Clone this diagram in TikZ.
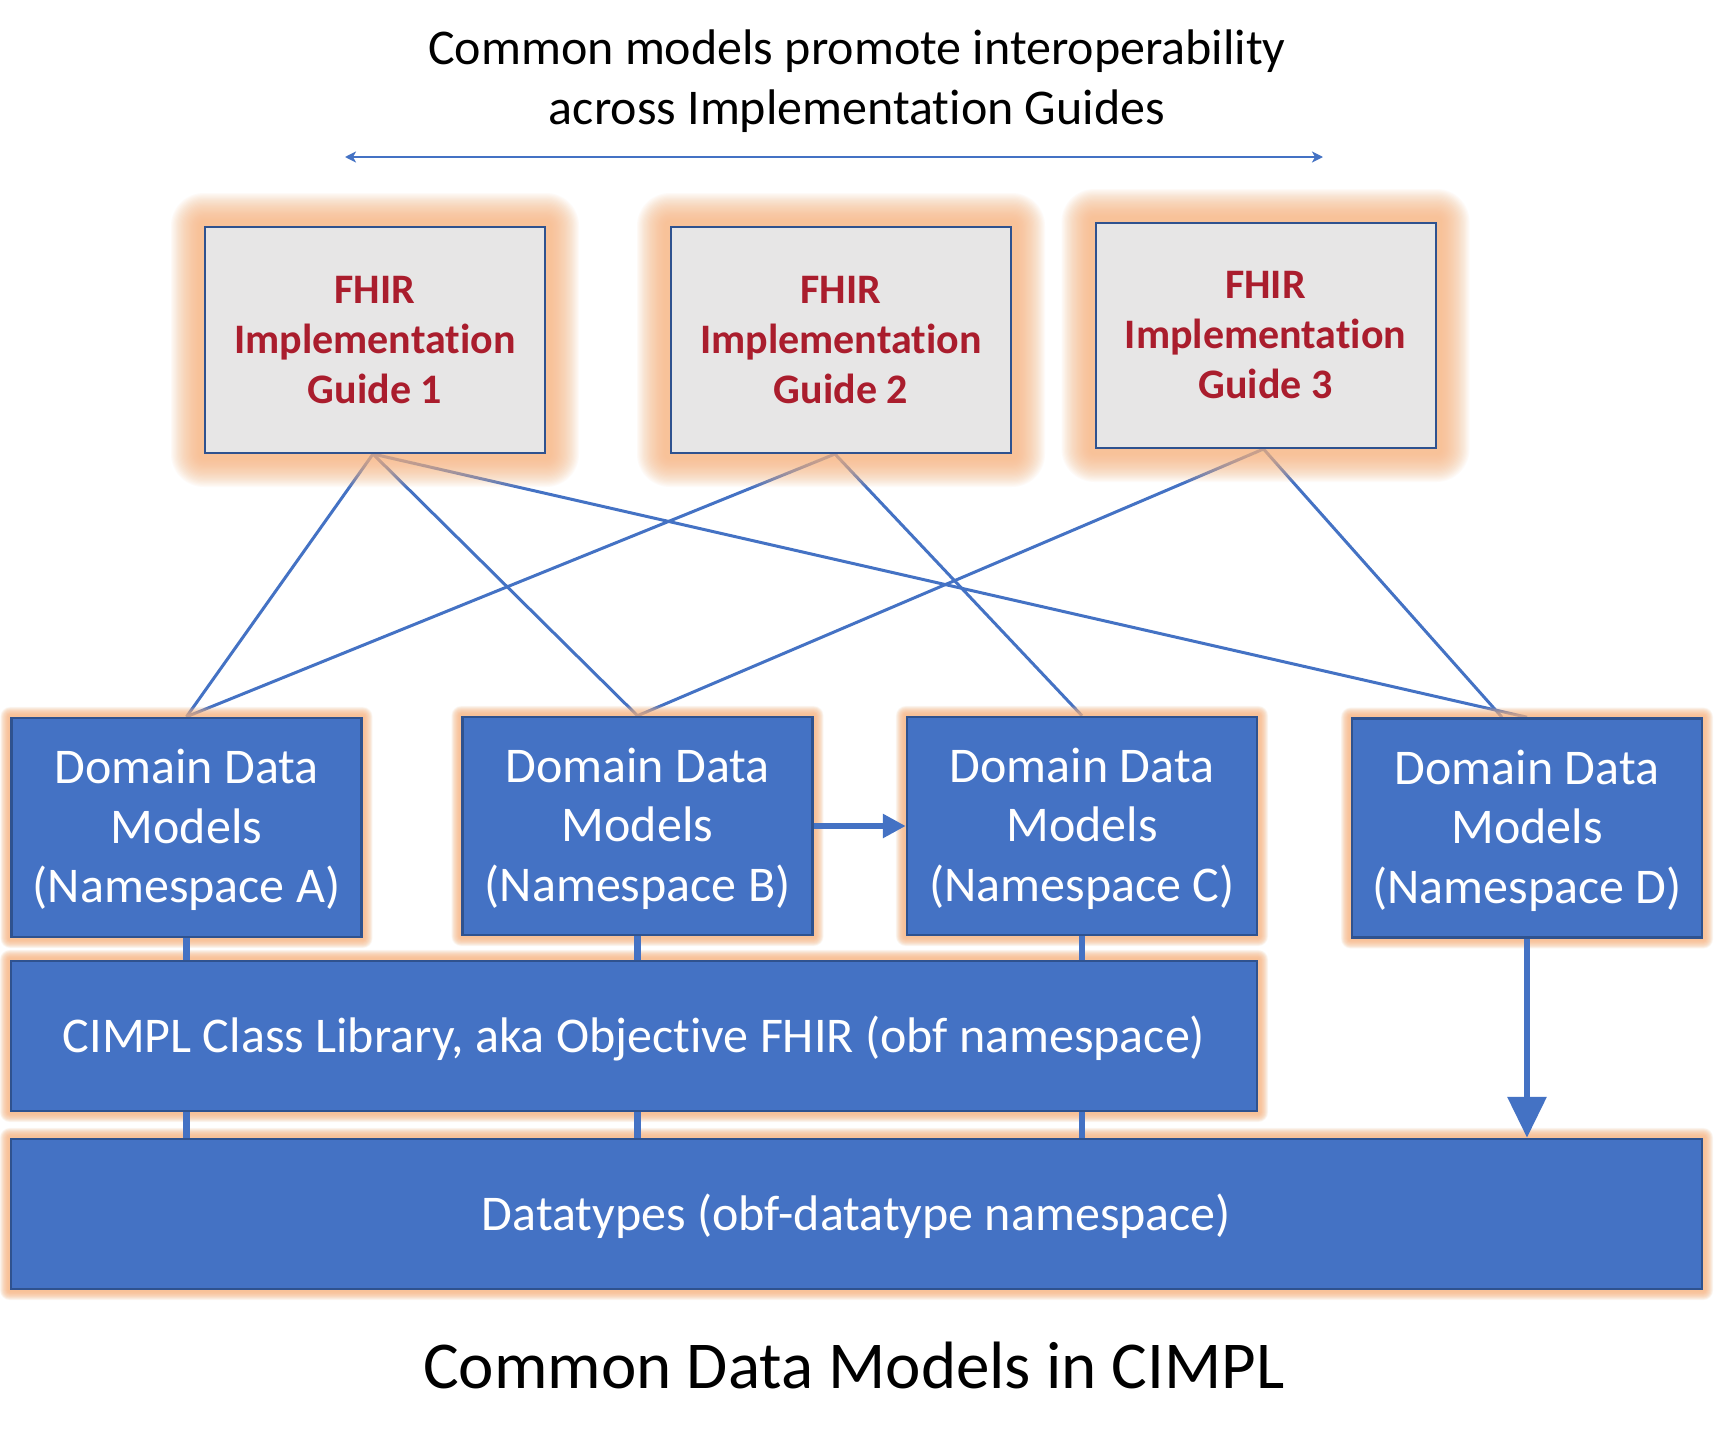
\documentclass[tikz,border=0pt]{standalone}
\usepackage{fontspec}
\setmainfont{Carlito}[Ligatures=NoCommon]
\usetikzlibrary{arrows.meta}
\definecolor{blu}{HTML}{4472C4}
\definecolor{bordc}{HTML}{2F528F}
\definecolor{igfill}{HTML}{E7E6E6}
\definecolor{igred}{RGB}{170,29,45}
\definecolor{glowc}{RGB}{248,182,130}
\pgfdeclarelayer{bg}
\pgfdeclarelayer{lines}
\pgfdeclarelayer{glow}
\pgfsetlayers{bg,lines,glow,main}
\newcommand\myglow[2]{%
  \foreach \k in {1,...,24}{%
    \pgfmathsetmacro\rr{#2*(0.15+0.95*\k/24)}%
    \fill[glowc, opacity=0.058, rounded corners=\rr pt]
      ([xshift=-\rr pt,yshift=-\rr pt]#1.south west) rectangle ([xshift=\rr pt,yshift=\rr pt]#1.north east);
  }}
\begin{document}
\begin{tikzpicture}[x=1pt,y=-1pt,
  ig/.style={draw=bordc, line width=2pt, fill=igfill, minimum width=340pt, minimum height=226pt,
    inner sep=0pt, align=center, text=igred, font=\fontsize{42}{50}\selectfont\bfseries},
  ddm/.style={draw=bordc, line width=2.5pt, fill=blu, minimum width=350pt, minimum height=219pt,
    inner sep=0pt, align=center, text=white, text depth=2.5pt, font=\fontsize{50}{59.5}\selectfont},
  bar/.style={draw=bordc, line width=2.5pt, fill=blu, minimum height=150pt, inner sep=0pt,
    text=white, text depth=3pt, font=\fontsize{50}{60}\selectfont},
  link/.style={draw=blu, line width=3pt},
  conn/.style={draw=blu, line width=6.5pt},
  thinarrow/.style={draw=blu, line width=2.5pt, {Stealth[length=11pt,width=11pt,inset=3pt]}-{Stealth[length=11pt,width=11pt,inset=3pt]}}
]
\useasboundingbox (0,0) rectangle (1714,1448);
\begin{pgfonlayer}{bg}
\fill[white] (0,0) rectangle (1714,1448);
\end{pgfonlayer}

% title and caption
\node[font=\fontsize{50}{60}\selectfont, align=center] (title) at (857,81)
  {Common models promote interoperability\\across Implementation Guides};
\coordinate (arL) at (345,157);
\coordinate (arR) at (1323,157);
\draw[thinarrow] (arL) -- (arR);
\node[font=\fontsize{67}{80}\selectfont, anchor=base] (cap) at (854,1388) {Common Data Models in CIMPL};

% implementation guides
\node[ig] (ig1) at (375,340) {FHIR\\Implementation\\Guide 1};
\node[ig] (ig2) at (841,340) {FHIR\\Implementation\\Guide 2};
\node[ig, minimum height=225pt] (ig3) at (1265.5,335.5) {FHIR\\Implementation\\Guide 3};

% domain data models
\node[ddm] (dA) at (186.5,827.5) {Domain Data\\Models\\(Namespace A)};
\node[ddm, minimum height=218pt] (dB) at (637.5,826) {Domain Data\\Models\\(Namespace B)};
\node[ddm, minimum height=218pt] (dC) at (1082,826) {Domain Data\\Models\\(Namespace C)};
\node[ddm] (dD) at (1527,828) {Domain Data\\Models\\(Namespace D)};

% bars
\node[bar, minimum width=1246pt] (lib) at (634,1036) {CIMPL Class Library, aka Objective FHIR (obf namespace)};
\node[bar, minimum width=1691pt] (dt) at (856.5,1214) {Datatypes (obf-datatype namespace)};

\begin{pgfonlayer}{glow}
\myglow{ig1}{30}
\myglow{ig2}{30}
\myglow{ig3}{30}
\myglow{dA}{9}
\myglow{dB}{9}
\myglow{dC}{9}
\myglow{dD}{9}
\myglow{lib}{9}
\myglow{dt}{9}
\end{pgfonlayer}

\begin{pgfonlayer}{lines}
\draw[link] ([xshift=-2pt]ig1.south) -- (dA.north);
\draw[link] ([xshift=-2pt]ig1.south) -- (dB.north);
\draw[link] ([xshift=-2pt]ig1.south) -- (dD.north);
\draw[link] ([xshift=-6pt]ig2.south) -- (dA.north);
\draw[link] ([xshift=-6pt]ig2.south) -- (dC.north);
\draw[link] ([xshift=-2pt]ig3.south) -- (dB.north);
\draw[link] ([xshift=-2pt]ig3.south) -- ([xshift=-25pt]dD.north);
\end{pgfonlayer}

\draw[conn] (dA.south) -- (dA.south |- lib.north);
\draw[conn] (dB.south) -- (dB.south |- lib.north);
\draw[conn] (dC.south) -- (dC.south |- lib.north);
\draw[conn] (lib.south -| dA.south) -- (dt.north -| dA.south);
\draw[conn] (lib.south -| dB.south) -- (dt.north -| dB.south);
\draw[conn] (lib.south -| dC.south) -- (dt.north -| dC.south);
\draw[conn, -{Triangle[length=23pt,width=23pt]}] (dB.east) -- (dC.west);
\draw[conn, -{Triangle[length=41pt,width=38pt]}] (dD.south) -- (dD.south |- dt.north);
\end{tikzpicture}
\end{document}
